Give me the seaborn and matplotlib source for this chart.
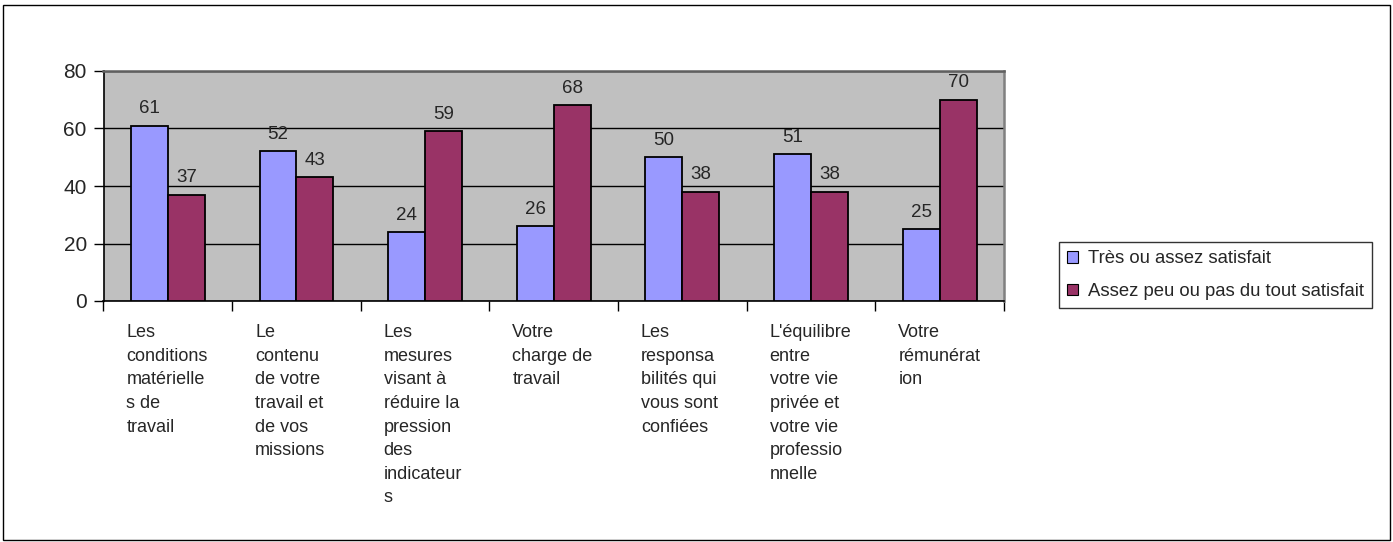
import pandas as pd
import numpy as np
import matplotlib
matplotlib.use("Agg")
import matplotlib.pyplot as plt
import seaborn as sns
from matplotlib.patches import Rectangle
from matplotlib.transforms import blended_transform_factory


categories = [
    "Les\nconditions\nmatérielle\ns de\ntravail",
    "Le\ncontenu\nde votre\ntravail et\nde vos\nmissions",
    "Les\nmesures\nvisant à\nréduire la\npression\ndes\nindicateur\ns",
    "Votre\ncharge de\ntravail",
    "Les\nresponsa\nbilités qui\nvous sont\nconfiées",
    "L'équilibre\nentre\nvotre vie\nprivée et\nvotre vie\nprofessio\nnnelle",
    "Votre\nrémunérat\nion",
]
series_names = ["Très ou assez satisfait", "Assez peu ou pas du tout satisfait"]
satisfied = [61, 52, 24, 26, 50, 51, 25]
not_satisfied = [37, 43, 59, 68, 38, 38, 70]
y_ticks = [0, 20, 40, 60, 80]

colors = ["#9999FF", "#993366"]

df = pd.DataFrame({
    "Category": categories * 2,
    "Series": [series_names[0]] * len(categories) + [series_names[1]] * len(categories),
    "Value": satisfied + not_satisfied,
})

sns.set_style("white")
plt.rcParams["font.family"] = ["Liberation Sans", "DejaVu Sans"]

W, H = 1393, 542
fig = plt.figure(figsize=(W / 100, H / 100), dpi=100)
ax = fig.add_axes([103.5 / W, 1 - 301 / H, (1004 - 103.5) / W, (301 - 71) / H])
ax.set_facecolor("#C0C0C0")

sns.barplot(
    data=df, x="Category", y="Value", hue="Series",
    palette=colors, saturation=1, width=0.574, gap=0,
    edgecolor="black", linewidth=1.3,
    ax=ax, legend=False, zorder=3,
)

for cont in ax.containers:
    ax.bar_label(cont, padding=6, fontsize=13.5)

ax.set_ylim(0, 80)
ax.set_xlim(-0.5, len(categories) - 0.5)
ax.set_yticks(y_ticks)
ax.set_yticklabels([str(v) for v in y_ticks], fontsize=15)
ax.yaxis.grid(True, color="black", linewidth=1, zorder=0)
ax.set_axisbelow(True)
ax.tick_params(axis="y", length=7, width=1, color="black", left=True, pad=5)

# ticks between categories, labels drawn as text
ax.set_xticks(np.arange(len(categories) + 1) - 0.5)
ax.set_xticklabels([])
ax.tick_params(axis="x", length=7, width=1, color="black", bottom=True, direction="out")
ax.set_xlabel("")
ax.set_ylabel("")

trans = blended_transform_factory(ax.transData, ax.transAxes)
for i, lab in enumerate(categories):
    ax.text(i - 0.322, -0.10, lab, transform=trans, ha="left", va="top",
            fontsize=13, linespacing=1.51)

for side in ["left", "bottom"]:
    ax.spines[side].set_color("black")
    ax.spines[side].set_linewidth(1.2)
ax.spines["top"].set_color("#606060")
ax.spines["top"].set_linewidth(1.8)
ax.spines["right"].set_color("#808080")
ax.spines["right"].set_linewidth(1.8)

handles = [Rectangle((0, 0), 1, 1, facecolor=c, edgecolor="black", linewidth=0.8) for c in colors]
leg = fig.legend(
    handles, series_names, loc="upper left",
    bbox_to_anchor=(1059 / W, 1 - 242 / H),
    fontsize=13.3, frameon=True, fancybox=False, edgecolor="black",
    handlelength=0.6, handleheight=0.6, handletextpad=0.5,
    borderpad=0.45, labelspacing=0.85, borderaxespad=0,
)
leg.get_frame().set_linewidth(1)

fig.patches.append(Rectangle((3 / W, 2 / H), 1387 / W, 535 / H,
                             transform=fig.transFigure, fill=False,
                             edgecolor="black", linewidth=1))

fig.savefig("out.png", dpi=100)
